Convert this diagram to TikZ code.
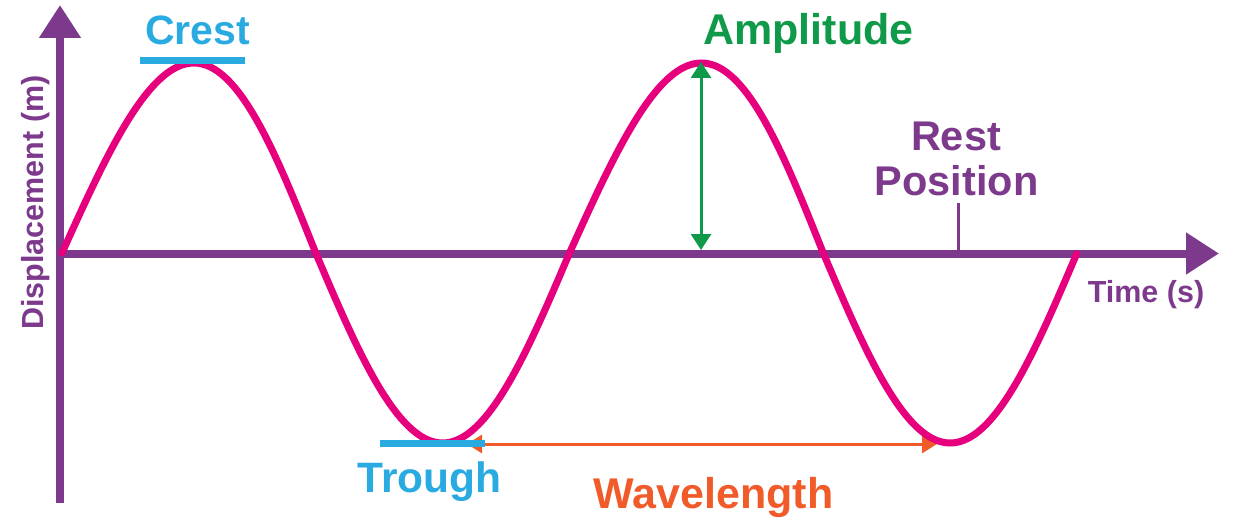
\documentclass[tikz,border=0pt]{standalone}
\usepackage{fontspec}
\setmainfont{Liberation Sans}
\usetikzlibrary{arrows.meta}
\definecolor{axispurple}{RGB}{125,58,140}
\definecolor{wavepink}{RGB}{230,0,126}
\definecolor{crestcyan}{RGB}{41,171,226}
\definecolor{ampgreen}{RGB}{14,154,72}
\definecolor{waveorange}{RGB}{241,90,41}
\begin{document}
\begin{tikzpicture}[x=1pt,y=-1pt,
  lbl/.style={font=\bfseries\fontsize{#1}{#1}\selectfont, inner sep=0pt, anchor=base},
  axisline/.style={draw=axispurple, line width=8pt, -{Triangle[length=33pt,width=40pt]}},
  waveline/.style={draw=wavepink, line width=7pt, line cap=round},
  barline/.style={draw=crestcyan, line width=7pt},
  amparrow/.style={draw=ampgreen, line width=3pt, {Triangle[length=16pt,width=20pt]}-{Triangle[length=16pt,width=20pt]}},
  wlarrow/.style={draw=waveorange, line width=3pt, {Triangle[length=15pt,width=18pt]}-{Triangle[length=15pt,width=18pt]}},
  tickline/.style={draw=axispurple, line width=3pt}]
\useasboundingbox (0,0) rectangle (1243,519);
% axes
\coordinate (ybot) at (60,503);
\coordinate (ytop) at (60,5);
\coordinate (orig) at (56,253.5);
\coordinate (xend) at (1219,253.5);
\draw[axisline] (ybot) -- (ytop);
\draw[axisline] (orig) -- (xend);
% rest position tick
\coordinate (resttop) at (958,203);
\coordinate (restbot) at (958,253.5);
\draw[tickline] (resttop) -- (restbot);
% wavelength arrow
\coordinate (wlleft) at (467,444);
\coordinate (wlright) at (937,444);
\draw[wlarrow] (wlleft) -- (wlright);
% wave
\draw[waveline] plot[domain=0:1, samples=241, smooth]
  ({62+1015*\x+5*max(0,sin(720*\x))},{253-190*sin(720*\x)});
% amplitude arrow
\coordinate (ampbot) at (701,250);
\coordinate (amptop) at (701,62);
\draw[amparrow] (ampbot) -- (amptop);
% crest and trough bars
\coordinate (cb1) at (140,60.5);
\coordinate (cb2) at (245,60.5);
\draw[barline] (cb1) -- (cb2);
\coordinate (tb1) at (380,443.5);
\coordinate (tb2) at (485,443.5);
\draw[barline] (tb1) -- (tb2);
% labels
\node[lbl=41, text=crestcyan] (crest) at (197.5,45) {Crest};
\node[lbl=42.5, text=crestcyan] (trough) at (429.5,492) {Trough};
\node[lbl=43, text=waveorange] (wavelength) at (713.5,508) {Wavelength};
\node[lbl=43, text=ampgreen] (amplitude) at (808.5,45) {Amplitude};
\node[lbl=41.5, text=axispurple] (rest) at (956,150) {Rest};
\node[lbl=41.5, text=axispurple] (position) at (956.5,195) {Position};
\node[lbl=30.5, text=axispurple] (time) at (1146,302) {Time (s)};
\node[lbl=30.5, text=axispurple, rotate=90] (disp) at (43,202.5) {Displacement (m)};
\end{tikzpicture}
\end{document}
